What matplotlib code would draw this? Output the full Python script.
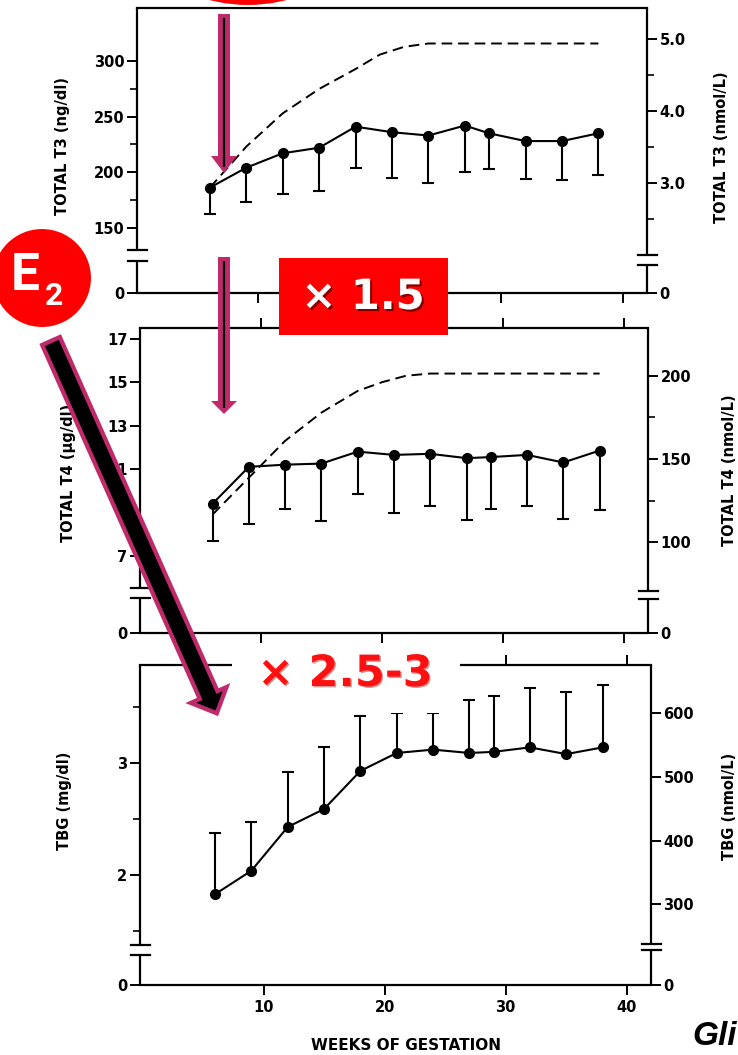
import matplotlib
matplotlib.use("Agg")
import matplotlib.pyplot as plt
import matplotlib.patheffects as pe
from matplotlib.patches import Circle, Rectangle, FancyArrow

plt.rcParams['font.family'] = ['DejaVu Sans']
plt.rcParams['font.weight'] = 'bold'

# ---------------- data ----------------
weeks = [6, 9, 12, 15, 18, 21, 24, 27, 29, 32, 35, 38]

t3_mean = [186, 204, 217, 222, 241, 236, 233, 242, 235, 228, 228, 235]
t3_low = [162, 173, 180, 183, 204, 195, 190, 200, 203, 194, 193, 197]

t4_mean = [9.4, 11.1, 11.2, 11.25, 11.8, 11.65, 11.7, 11.5, 11.55, 11.65, 11.3, 11.85]
t4_low = [7.7, 8.45, 9.15, 8.6, 9.85, 8.95, 9.3, 8.65, 9.15, 9.3, 8.7, 9.1]

tbg_mean = [1.83, 2.04, 2.43, 2.59, 2.93, 3.09, 3.12, 3.09, 3.10, 3.14, 3.08, 3.14]
tbg_high = [2.38, 2.47, 2.92, 3.14, 3.42, 3.45, 3.45, 3.56, 3.60, 3.67, 3.63, 3.70]

fit_weeks = [6, 9, 12, 15, 18, 20, 22, 24, 38]
t3_fit = [186, 223, 253, 275, 293, 306, 313, 316, 316]
t4_fit = [8.9, 10.6, 12.3, 13.6, 14.6, 15.0, 15.3, 15.4, 15.4]

# tick labels
x_ticks = [10, 20, 30, 40]
x_labels = ['10', '20', '30', '40']
t3_left_ticks = [150, 200, 250, 300]
t3_left_minor = [175, 225, 275]
t3_right_ticks = [3.0, 4.0, 5.0]
t3_right_minor = [2.5, 3.5, 4.5]
t4_left_ticks = [7, 9, 11, 13, 15, 17]
t4_right_ticks = [100, 150, 200]
t4_right_minor = [125, 175]
tbg_left_ticks = [2, 3]
tbg_left_minor = [1.5, 2.5, 3.5]
tbg_right_ticks = [300, 400, 500, 600]

W, H = 738, 1055
MAG = '#BE2A6A'
LW = 1.6

fig = plt.figure(figsize=(W / 100, H / 100), dpi=100)


def rect(l, t, r, b):
    return [l / W, 1 - b / H, (r - l) / W, (b - t) / H]


def fx(x):
    return x / W


def fy(y):
    return 1 - y / H


def t3_conv(n):
    return -4.45 + 64.85 * n


def t4_conv(n):
    return -0.06 + 0.0768 * n


def tbg_conv(n):
    return 0.036 + 0.005683 * n


def panel(ax, ylim, xlim, lmaj, lmin, rmaj, rmin, rlabels, lbreak, rbreak,
          top_ticks, bottom_labels):
    ax.set_xlim(*xlim)
    ax.set_ylim(*ylim)
    for s in ('left', 'right'):
        ax.spines[s].set_visible(False)
    for s in ('top', 'bottom'):
        ax.spines[s].set_linewidth(LW)
    ax.set_xticks(x_ticks)
    ax.set_xticklabels(x_labels if bottom_labels else [])
    ax.tick_params(axis='x', direction='out', length=7, width=1.4,
                   top=top_ticks, labelsize=10.5, pad=4)
    ax.set_yticks([ylim[0]] + lmaj)
    ax.set_yticklabels(['0'] + [str(v) for v in lmaj])
    ax.set_yticks(lmin, minor=True)
    ax.tick_params(axis='y', which='major', direction='out', length=7,
                   width=1.4, labelsize=10.5, pad=2)
    ax.tick_params(axis='y', which='minor', direction='out', length=5,
                   width=1.2)
    ax.set_facecolor('none')
    tr = ax.get_yaxis_transform()
    for xa, (lo, hi) in ((0, lbreak), (1, rbreak)):
        ax.plot([xa, xa], [ylim[0], lo], transform=tr, color='k', lw=LW,
                clip_on=False, solid_capstyle='butt')
        ax.plot([xa, xa], [hi, ylim[1]], transform=tr, color='k', lw=LW,
                clip_on=False, solid_capstyle='butt')
        for yb in (lo, hi):
            ax.plot([xa - 0.017, xa + 0.02], [yb, yb], transform=tr,
                    color='k', lw=LW, clip_on=False)
    axr = ax.twinx()
    axr.set_ylim(*ylim)
    for s in axr.spines.values():
        s.set_visible(False)
    axr.set_yticks([ylim[0]] + rmaj)
    axr.set_yticklabels(['0'] + rlabels)
    axr.set_yticks(rmin, minor=True)
    axr.tick_params(axis='y', which='major', direction='out', length=7,
                    width=1.4, labelsize=10.5, pad=2)
    axr.tick_params(axis='y', which='minor', direction='out', length=5,
                    width=1.2)
    return axr


ax1 = fig.add_axes(rect(137, 8, 647, 293))
ax2 = fig.add_axes(rect(140, 328, 648, 633))
ax3 = fig.add_axes(rect(140, 665, 651, 985))

panel(ax1, (91, 348), (0, 42), t3_left_ticks, t3_left_minor,
      [t3_conv(v) for v in t3_right_ticks], [t3_conv(v) for v in t3_right_minor],
      ['%.1f' % v for v in t3_right_ticks], (119.8, 129.7), (116.2, 125.2),
      False, False)

panel(ax2, (3.44, 17.5), (0, 42), t4_left_ticks, [],
      [t4_conv(v) for v in t4_right_ticks], [t4_conv(v) for v in t4_right_minor],
      [str(v) for v in t4_right_ticks], (5.05, 5.5), (5.0, 5.37),
      True, False)

panel(ax3, (1.02, 3.875), (-0.2, 42), tbg_left_ticks, tbg_left_minor,
      [tbg_conv(v) for v in tbg_right_ticks], [],
      [str(v) for v in tbg_right_ticks], (1.286, 1.375), (1.33, 1.39),
      True, True)

# data series
mk = dict(color='k', lw=1.5, marker='o', ms=7, zorder=5)
cap = 4.5

ax1.plot(fit_weeks, t3_fit, color='k', lw=1.4, dashes=(5.5, 3))
eb = ax1.errorbar(weeks, t3_mean,
                  yerr=[[m - l for m, l in zip(t3_mean, t3_low)], [0] * len(weeks)],
                  fmt='none', ecolor='k', elinewidth=1.5, capsize=cap, capthick=1.5)
eb[1][1].set_visible(False)
ax1.plot(weeks, t3_mean, **mk)

ax2.plot(fit_weeks, t4_fit, color='k', lw=1.4, dashes=(5.5, 3))
eb = ax2.errorbar(weeks, t4_mean,
                  yerr=[[m - l for m, l in zip(t4_mean, t4_low)], [0] * len(weeks)],
                  fmt='none', ecolor='k', elinewidth=1.5, capsize=cap, capthick=1.5)
eb[1][1].set_visible(False)
ax2.plot(weeks, t4_mean, **mk)

eb = ax3.errorbar(weeks, tbg_mean,
                  yerr=[[0] * len(weeks), [h - m for m, h in zip(tbg_mean, tbg_high)]],
                  fmt='none', ecolor='k', elinewidth=1.5, capsize=cap, capthick=1.5)
eb[1][0].set_visible(False)
ax3.plot(weeks, tbg_mean, **mk)

# axis labels
lab = dict(fontsize=10.5, fontweight='bold', rotation=90, ha='center', va='center')
fig.text(fx(62), fy(146), 'TOTAL T3 (ng/dl)', **lab)
fig.text(fx(722), fy(147), 'TOTAL T3 (nmol/L)', **lab)
fig.text(fx(69), fy(473), 'TOTAL T4 (\u00b5g/dl)', **lab)
fig.text(fx(729), fy(470), 'TOTAL T4 (nmol/L)', **lab)
fig.text(fx(65), fy(801), 'TBG (mg/dl)', **lab)
fig.text(fx(729), fy(806), 'TBG (nmol/L)', **lab)
fig.text(fx(406), fy(1046), 'WEEKS OF GESTATION', fontsize=11, fontweight='bold',
         ha='center', va='center')
fig.text(fx(692), fy(1045), 'Gli', fontsize=24, fontweight='bold', style='italic',
         family='Liberation Sans', ha='left', va='baseline')

# overlay annotations
ov = fig.add_axes([0, 0, 1, 1], zorder=10)
ov.set_xlim(0, W)
ov.set_ylim(H, 0)
ov.axis('off')
ov.patch.set_visible(False)

ov.add_patch(Circle((248, -147), 153, fc='#FF0000', ec='white', lw=1.5))
ov.add_patch(Circle((42, 278), 50, fc='#FF0000', ec='white', lw=1.5))
ov.text(25, 276, 'E', color='white', fontsize=37, family='Roboto',
        fontweight='bold', ha='center', va='center')
ov.text(54, 296, '2', color='white', fontsize=23, family='Roboto',
        fontweight='bold', ha='center', va='center')

# x 1.5 box
ov.add_patch(Rectangle((279, 258), 169, 77, fc='#FF0000', ec='none'))
ov.text(363, 297, '\u00d7 1.5', color='white', fontsize=30, fontweight='bold',
        ha='center', va='center',
        path_effects=[pe.withSimplePatchShadow(offset=(1.5, -1.5),
                                               shadow_rgbFace='#500000', alpha=0.7)])

# x 2.5-3
ov.add_patch(Rectangle((232, 643), 228, 70, fc='white', ec='none'))
ov.text(345, 674, '\u00d7 2.5-3', color='#FF1010', fontsize=31, fontweight='bold',
        ha='center', va='center',
        path_effects=[pe.withSimplePatchShadow(offset=(1, -1),
                                               shadow_rgbFace='#800000', alpha=0.4)])

# vertical arrows
for y0, tip, hl in ((14, 173, 17), (257, 414, 13)):
    ov.add_patch(FancyArrow(224, y0, 0, tip - y0, width=12, head_width=26,
                            head_length=hl, length_includes_head=True,
                            fc=MAG, ec='none'))
    ov.plot([224, 224], [y0 + 4, tip - 6], color='k', lw=1.6,
            solid_capstyle='butt')

# diagonal arrow
x0, y0, x1, y1 = 51, 341, 216.8, 713.3
da = FancyArrow(x0, y0, x1 - x0, y1 - y0, width=19.3, head_width=39,
                head_length=20, length_includes_head=True,
                fc='black', ec=MAG, lw=3.1)
da.set_joinstyle('miter')
ov.add_patch(da)

fig.savefig('out.png', dpi=100)
